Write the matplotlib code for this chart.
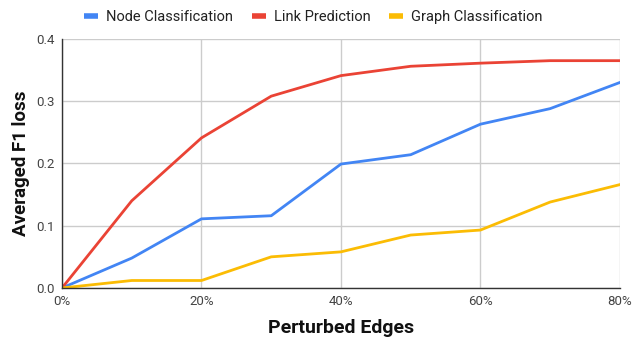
import matplotlib
matplotlib.use("Agg")
import matplotlib.pyplot as plt
from matplotlib.ticker import FuncFormatter, MultipleLocator

plt.rcParams['font.family'] = ['Roboto', 'DejaVu Sans']

perturbed = [0, 10, 20, 30, 40, 50, 60, 70, 80]
node_cls = [0.0, 0.048, 0.111, 0.116, 0.199, 0.214, 0.263, 0.288, 0.330]
link_pred = [0.0, 0.140, 0.241, 0.308, 0.341, 0.356, 0.361, 0.365, 0.365]
graph_cls = [0.0, 0.012, 0.012, 0.050, 0.058, 0.085, 0.093, 0.138, 0.166]

series = [
    ("Node Classification", node_cls, "#4285F4"),
    ("Link Prediction", link_pred, "#EA4335"),
    ("Graph Classification", graph_cls, "#FBBC04"),
]

fig = plt.figure(figsize=(6.42, 3.38), dpi=100)
ax = fig.add_axes([0.0966, 0.148, 0.869, 0.737])

for name, vals, color in series:
    ax.plot(perturbed, vals, color=color, lw=2, label=name, solid_joinstyle='round')

ax.set_xlim(0, 80)
ax.set_ylim(0, 0.4)
ax.xaxis.set_major_locator(MultipleLocator(20))
ax.yaxis.set_major_locator(MultipleLocator(0.1))
ax.xaxis.set_major_formatter(FuncFormatter(lambda v, p: f"{int(v)}%"))
ax.yaxis.set_major_formatter(FuncFormatter(lambda v, p: f"{v:.1f}"))
ax.grid(True, color="#cccccc", lw=1)
ax.set_axisbelow(True)
for s in ["top", "right"]:
    ax.spines[s].set_visible(False)
for s in ["left", "bottom"]:
    ax.spines[s].set_color("#333333")
    ax.spines[s].set_linewidth(1)
ax.tick_params(length=0, labelsize=9.5, labelcolor="#444444", pad=5)

ax.set_xlabel("Perturbed Edges", fontsize=14, fontweight="bold", color="#111111", labelpad=8)
ax.set_ylabel("Averaged F1 loss", fontsize=13.5, fontweight="bold", color="#111111", labelpad=5)

leg = fig.legend(loc="upper center", bbox_to_anchor=(0.488, 1.01), ncol=3, frameon=False,
                 fontsize=10.5, handlelength=0.95, handletextpad=0.55, columnspacing=1.3,
                 labelcolor="#222222")
for h in leg.get_lines():
    h.set_linewidth(4)
    h.set_solid_capstyle("butt")

fig.savefig("out.png", dpi=100)
